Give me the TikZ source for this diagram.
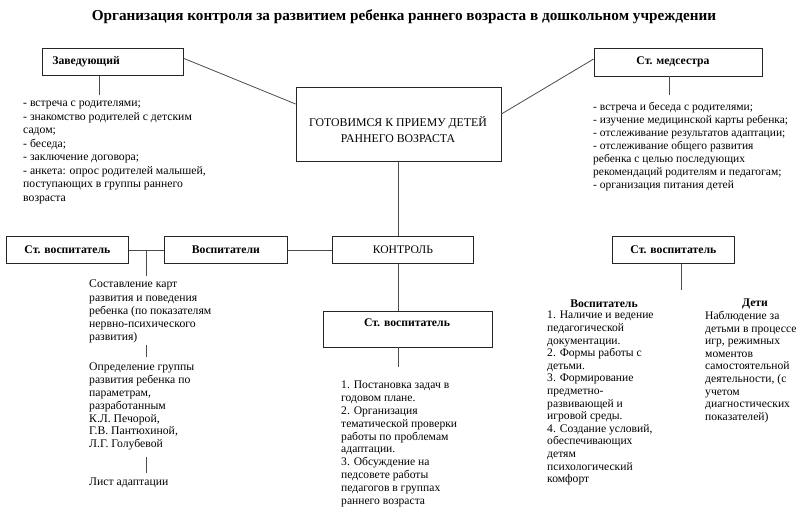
\documentclass[tikz,border=0pt]{standalone}
\usepackage{fontspec}
\setmainfont{Liberation Serif}
\usetikzlibrary{calc}
\begin{document}
\begin{tikzpicture}[x=1pt,y=-1pt,
  box/.style={draw=black!85, line width=0.8pt, inner sep=0pt, font=\fontsize{11.7}{13}\selectfont\bfseries},
  conn/.style={draw=black!70, line width=0.8pt},
  txt/.style={inner sep=0pt, anchor=north west, align=left},
  head/.style={inner sep=0pt, font=\fontsize{11.7}{13}\selectfont\bfseries},
]
\fill[white] (0,0) rectangle (800,512);
\useasboundingbox (0,0) rectangle (800,512);

% title
\node[font=\fontsize{15.2}{17}\selectfont\bfseries] (title) at (404,17)
  {Организация контроля за развитием ребенка раннего возраста в дошкольном учреждении};

% top boxes
\node[box, anchor=north west, minimum width=141, minimum height=27, text width=121, align=left] (zav) at (42,48) {Заведующий};
\node[box, minimum width=168, minimum height=28] (med) at (678,62) {\hspace*{-10pt}Ст. медсестра};
\node[box, minimum width=205, minimum height=74] (ctr) at (398.5,124) {};
\node[inner sep=0pt, align=center, font=\fontsize{11.8}{16}\selectfont] (ctrt) at (398,130)
  {ГОТОВИМСЯ К ПРИЕМУ ДЕТЕЙ\\РАННЕГО ВОЗРАСТА};

\draw[conn] ([yshift=3.5pt]zav.east) -- ([yshift=20pt]ctr.west);
\draw[conn] ([yshift=10pt]ctr.east) -- ([yshift=3pt]med.west);

% stems under top boxes
\coordinate (zavEnd) at (99,95);
\coordinate (medEnd) at (669,95);
\draw[conn] (zav.south -| zavEnd) -- (zavEnd);
\draw[conn] (med.south -| medEnd) -- (medEnd);

\node[txt, font=\fontsize{11.7}{13.5}\selectfont] (zavList) at (23,101)
  {- встреча с родителями;\\
   - знакомство родителей с детским\\
   садом;\\
   - беседа;\\
   - заключение договора;\\
   - анкета: опрос родителей малышей,\\
   поступающих в группы раннего\\
   возраста};

\node[txt, font=\fontsize{11.5}{13}\selectfont] (medList) at (593,102)
  {- встреча и беседа с родителями;\\
   - изучение медицинской карты ребенка;\\
   - отслеживание результатов адаптации;\\
   - отслеживание общего развития\\
   ребенка с целью последующих\\
   рекомендаций родителям и педагогам;\\
   - организация питания детей};

% middle row
\node[box, anchor=north west, minimum width=122, minimum height=27] (svL) at (6,236) {Ст. воспитатель};
\node[box, anchor=north west, minimum width=123, minimum height=27] (vosp) at (164,236) {Воспитатели};
\node[box, anchor=north west, minimum width=141, minimum height=27, font=\fontsize{11.6}{13}\selectfont] (kontr) at (332,236) {КОНТРОЛЬ};
\node[box, anchor=north west, minimum width=122, minimum height=27] (svR) at (612,236) {Ст. воспитатель};

\coordinate (jL) at (146,0);
\draw[conn] (svL.east) -- (vosp.west);
\draw[conn] (vosp.east) -- (kontr.west);
\draw[conn] (svL.east -| jL) -- ++(0,26) coordinate (jLend);
\draw[conn] (ctr.south) -- (ctr.south |- kontr.north);

% centre lower
\node[box, minimum width=169, minimum height=36] (svC) at (407.5,329) {};
\node[head] (svCt) at (407,323) {Ст. воспитатель};
\draw[conn] (ctr.south |- kontr.south) -- (ctr.south |- svC.north);
\coordinate (svCEnd) at (398,367);
\draw[conn] (svC.south -| svCEnd) -- (svCEnd);

\node[txt, font=\fontsize{11.6}{12.8}\selectfont] (svCList) at (341,381)
  {1. Постановка задач в\\
   годовом плане.\\
   2. Организация\\
   тематической проверки\\
   работы по проблемам\\
   адаптации.\\
   3. Обсуждение на\\
   педсовете работы\\
   педагогов в группах\\
   раннего возраста};

% left column
\node[txt, font=\fontsize{11.7}{13.2}\selectfont] (p1) at (89,280)
  {Составление карт\\
   развития и поведения\\
   ребенка (по показателям\\
   нервно-психического\\
   развития)};
\node[txt, font=\fontsize{11.7}{12.8}\selectfont] (p2) at (89,363)
  {Определение группы\\
   развития ребенка по\\
   параметрам,\\
   разработанным\\
   К.Л. Печорой,\\
   Г.В. Пантюхиной,\\
   Л.Г. Голубевой};
\node[txt, font=\fontsize{11.7}{13}\selectfont] (p3) at (89,478) {Лист адаптации};
\draw[conn] (jL |- 0,345) -- (jL |- 0,357);
\draw[conn] (jL |- 0,457) -- (jL |- 0,473);

% right column
\coordinate (svREnd) at (681,290);
\draw[conn] (svR.south -| svREnd) -- (svREnd);
\node[head] (vospH) at (604,304) {Воспитатель};
\node[txt, font=\fontsize{11.6}{12.6}\selectfont] (vospList) at (547,311)
  {1. Наличие и ведение\\
   педагогической\\
   документации.\\
   2. Формы работы с\\
   детьми.\\
   3. Формирование\\
   предметно-\\
   развивающей и\\
   игровой среды.\\
   4. Создание условий,\\
   обеспечивающих\\
   детям\\
   психологический\\
   комфорт};
\node[head] (detiH) at (755,304) {Дети};
\node[txt, font=\fontsize{11.6}{12.6}\selectfont] (detiList) at (705,311)
  {Наблюдение за\\
   детьми в процессе\\
   игр, режимных\\
   моментов\\
   самостоятельной\\
   деятельности, (с\\
   учетом\\
   диагностических\\
   показателей)};
\end{tikzpicture}
\end{document}
